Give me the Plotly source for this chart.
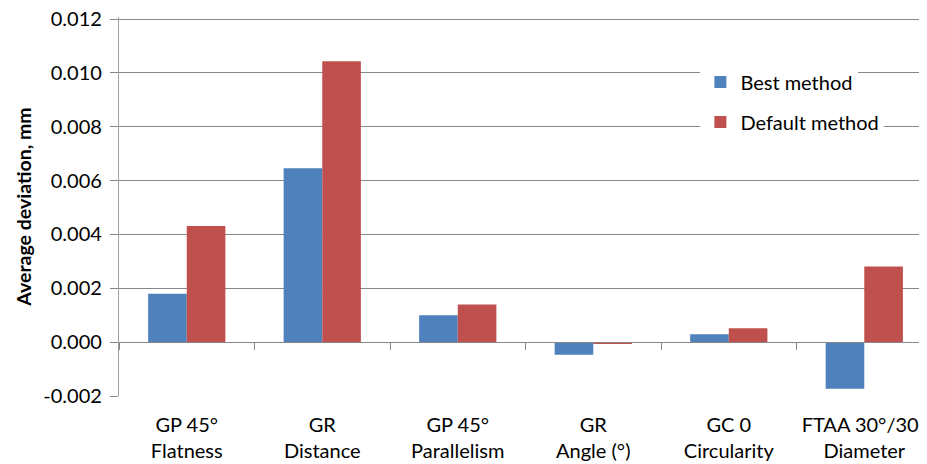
import plotly.graph_objects as go

categories = ["GP 45°<br>Flatness", "GR<br>Distance", "GP 45°<br>Parallelism",
              "GR<br>Angle (°)", "GC 0<br>Circularity", "FTAA 30°/30°<br>Diameter"]
best_method = [0.0018, 0.00646, 0.0010, -0.00047, 0.00029, -0.00173]
default_method = [0.00431, 0.01043, 0.0014, -0.00006, 0.00052, 0.00281]
y_tick_vals = [-0.002, 0.0, 0.002, 0.004, 0.006, 0.008, 0.010, 0.012]
y_tick_text = ["-0.002", "0.000", "0.002", "0.004", "0.006", "0.008", "0.010", "0.012"]

BLUE = "#4F81BD"
RED = "#C0504D"
GRID = "#878787"
AXIS = "#a0a0a0"
FONT = "Lato, 'Open Sans', sans-serif"

fig = go.Figure()
fig.add_trace(go.Bar(x=categories, y=best_method, name="Best method",
                     marker=dict(color=BLUE, line=dict(width=0)), legend="legend"))
fig.add_trace(go.Bar(x=categories, y=default_method, name="Default method",
                     marker=dict(color=RED, line=dict(width=0)), legend="legend2"))
# invisible helper trace to carry the category axis drawn through zero
fig.add_trace(go.Scatter(x=categories, y=[None] * len(categories), xaxis="x2",
                         mode="markers", showlegend=False, hoverinfo="skip"))

# page has an 8px body margin, so the figure is sized to fill the rest
W, H = 919, 456
px_per_unit = 377 / 0.014
pad_top = 2 / px_per_unit          # keep the top gridline a little inside the plot
y_lo, y_hi = -0.002 - 1e-9, 0.012 + pad_top
ml, mr, mt, mb = 111, 0, 9, 68
pw, ph = W - ml - mr, H - mt - mb
cat_px = 136.35
x_end = -0.5 + pw / cat_px
zero_pos = (0 - y_lo) / (y_hi - y_lo)


def legend_pos(page_x, page_y):
    fx, fy = page_x - 8, page_y - 8
    return (fx - ml) / pw, (H - mb - fy) / ph


lx1, ly1 = legend_pos(704, 82)
lx2, ly2 = legend_pos(704, 122)

fig.update_layout(
    width=W, height=H,
    margin=dict(l=ml, r=mr, t=mt, b=mb),
    paper_bgcolor="white", plot_bgcolor="white",
    font=dict(family=FONT, color="#000000", size=20),
    barmode="group", bargap=0.43, bargroupgap=0,
    xaxis=dict(
        type="category", categoryorder="array", categoryarray=categories,
        range=[-0.5, x_end], showgrid=False, showline=False, ticks="",
        tickfont=dict(size=20, family=FONT), ticklabelstandoff=15, zeroline=False,
        ticklabeloverflow="allow",
    ),
    xaxis2=dict(
        type="category", overlaying="x", matches="x", anchor="free",
        position=zero_pos, side="bottom", showline=True, linecolor=GRID, linewidth=1,
        ticks="outside", tickson="boundaries", ticklen=7, tickcolor=GRID,
        showticklabels=False, showgrid=False, zeroline=False,
    ),
    yaxis=dict(
        range=[y_lo, y_hi], tickvals=y_tick_vals, ticktext=y_tick_text,
        showgrid=True, gridcolor=GRID, gridwidth=1,
        showline=True, linecolor=AXIS, linewidth=1.2,
        ticks="outside", ticklen=8, tickcolor=GRID,
        zeroline=False, tickfont=dict(size=20, family=FONT), ticklabelstandoff=4,
        ticklabeloverflow="allow",
        title=dict(text="<b>Average deviation, mm</b>", font=dict(size=19.5, family=FONT),
                   standoff=6),
        automargin=False,
    ),
    legend=dict(x=lx1, y=ly1, xanchor="left", yanchor="middle", bgcolor="white",
                font=dict(size=20, family=FONT), entrywidth=125, entrywidthmode="pixels"),
    legend2=dict(x=lx2, y=ly2, xanchor="left", yanchor="middle", bgcolor="white",
                 font=dict(size=20, family=FONT), entrywidth=125, entrywidthmode="pixels"),
    showlegend=True,
)

fig.write_html("out.html")
